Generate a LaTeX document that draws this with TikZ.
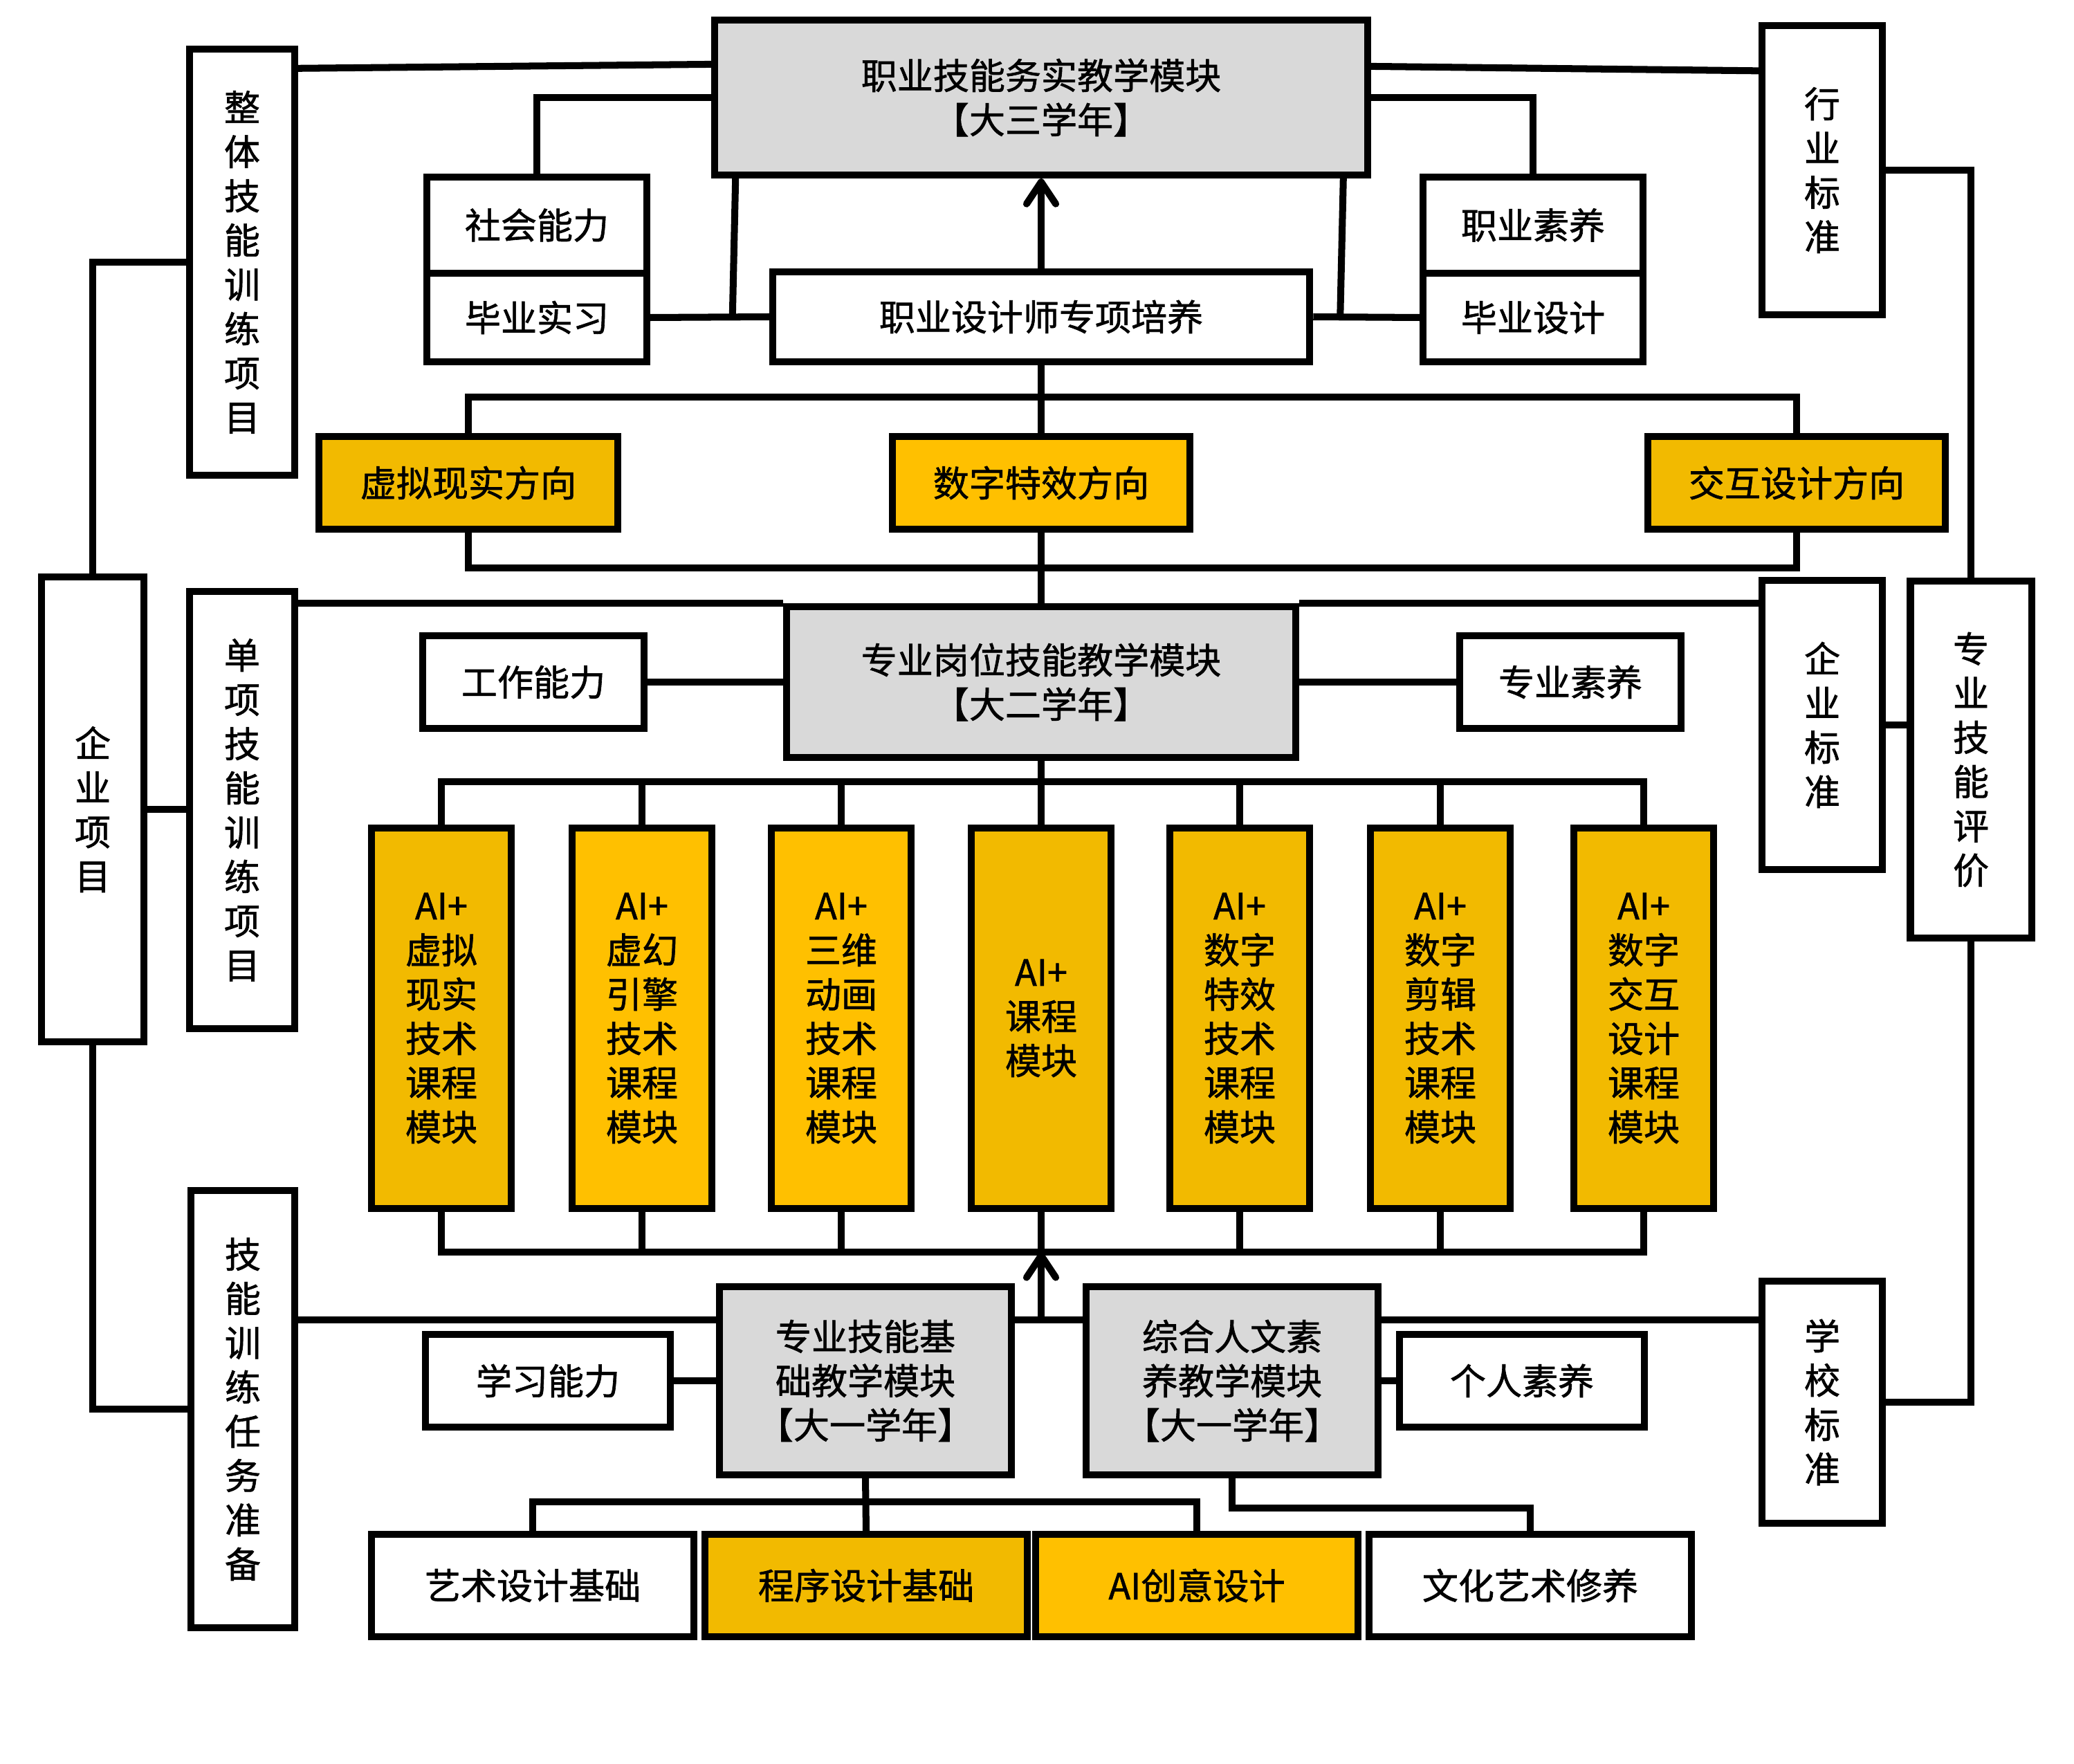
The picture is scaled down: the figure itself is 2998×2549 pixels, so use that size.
\documentclass[tikz,border=0pt]{standalone}
\usepackage{fontspec}
\setmainfont{Noto Sans CJK SC}[FakeBold=1.2]
\usepackage{tikz}
\usetikzlibrary{positioning, calc, arrows.meta}

\definecolor{modgray}{HTML}{D9D9D9}
\definecolor{ydark}{HTML}{F2BA00}
\definecolor{ylight}{HTML}{FFC000}

\tikzset{
  blk/.style={draw, line width=2.85pt, inner sep=0pt, align=center,
    font=\fontsize{14.8pt}{18.2pt}\selectfont},
  wbox/.style={blk, fill=white},
  gbox/.style={blk, fill=modgray},
  ybox/.style={blk, fill=ydark},
  lbox/.style={blk, fill=ylight},
  link/.style={line width=2.85pt},
}

\begin{document}
\begin{tikzpicture}[x=0.01cm, y=-0.01cm, >={Straight Barb[round,length=9pt,width=12pt]}]
    \useasboundingbox (0,0) rectangle (2998,2549);

    % third year
    \node[gbox, minimum width=9.43cm, minimum height=2.24cm] (top) at (1505,141) {职业技能务实教学模块\\【大三学年】};
    \node[wbox, minimum width=3.18cm, minimum height=1.39cm] (shehui) at (776,325.5) {社会能力};
    \node[wbox, minimum width=3.18cm, minimum height=1.28cm] (shixi) at (776,459) {毕业实习};
    \node[wbox, minimum width=7.76cm, minimum height=1.29cm] (zhuanxiang) at (1505,458) {职业设计师专项培养};
    \node[wbox, minimum width=3.17cm, minimum height=1.39cm] (zysy) at (2216,325.5) {职业素养};
    \node[wbox, minimum width=3.17cm, minimum height=1.28cm] (bysj) at (2216,459) {毕业设计};

    % directions
    \node[ybox, minimum width=4.31cm, minimum height=1.33cm] (xuni) at (677,698) {虚拟现实方向};
    \node[lbox, minimum width=4.30cm, minimum height=1.33cm] (texiao) at (1505,698) {数字特效方向};
    \node[ybox, minimum width=4.30cm, minimum height=1.33cm] (jiaohu) at (2597,698) {交互设计方向};

    % second year
    \node[gbox, minimum width=7.35cm, minimum height=2.18cm] (gangwei) at (1505,986) {专业岗位技能教学模块\\【大二学年】};
    \node[wbox, minimum width=3.20cm, minimum height=1.33cm] (gongzuo) at (771,986) {工作能力};
    \node[wbox, minimum width=3.19cm, minimum height=1.33cm] (zhuanyesy) at (2270,986) {专业素养};

    % AI+ modules
    \foreach \x/\n/\t/\s in {638/ai1/{AI+\\虚拟\\现实\\技术\\课程\\模块}/ybox,
                            928/ai2/{AI+\\虚幻\\引擎\\技术\\课程\\模块}/lbox,
                            1216/ai3/{AI+\\三维\\动画\\技术\\课程\\模块}/lbox,
                            1505/ai4/{AI+\\课程\\模块}/ybox,
                            1792/ai5/{AI+\\数字\\特效\\技术\\课程\\模块}/ybox,
                            2082/ai6/{AI+\\数字\\剪辑\\技术\\课程\\模块}/ybox,
                            2376/ai7/{AI+\\数字\\交互\\设计\\课程\\模块}/ybox}
        \node[\s, minimum width=2.02cm, minimum height=5.50cm] (\n) at (\x,1472) {\t};

    % first year
    \node[gbox, minimum width=4.21cm, minimum height=2.72cm] (jichu) at (1251,1996) {专业技能基\\础教学模块\\【大一学年】};
    \node[gbox, minimum width=4.22cm, minimum height=2.72cm] (zonghe) at (1781,1996) {综合人文素\\养教学模块\\【大一学年】};
    \node[wbox, minimum width=3.53cm, minimum height=1.34cm] (xuexi) at (792,1996) {学习能力};
    \node[wbox, minimum width=3.53cm, minimum height=1.34cm] (geren) at (2200,1996) {个人素养};
    \node[wbox, minimum width=4.65cm, minimum height=1.47cm] (yishu) at (770,2292) {艺术设计基础};
    \node[ybox, minimum width=4.65cm, minimum height=1.47cm] (chengxu) at (1252,2292) {程序设计基础};
    \node[lbox, minimum width=4.65cm, minimum height=1.47cm] (aicy) at (1730,2292) {AI创意设计};
    \node[wbox, minimum width=4.65cm, minimum height=1.47cm] (wenhua) at (2212,2292) {文化艺术修养};

    % left column
    \node[wbox, minimum width=1.47cm, minimum height=6.71cm] (qiyexm) at (134,1170) {企\\业\\项\\目};
    \node[wbox, minimum width=1.51cm, minimum height=6.16cm] (zhengti) at (350,379) {整\\体\\技\\能\\训\\练\\项\\目};
    \node[wbox, minimum width=1.51cm, minimum height=6.31cm] (danxiang) at (350,1171) {单\\项\\技\\能\\训\\练\\项\\目};
    \node[wbox, minimum width=1.50cm, minimum height=6.31cm] (jineng) at (351,2037) {技\\能\\训\\练\\任\\务\\准\\备};

    % right column
    \node[wbox, minimum width=1.74cm, minimum height=4.17cm] (hangye) at (2634,246) {行\\业\\标\\准};
    \node[wbox, minimum width=1.74cm, minimum height=4.17cm] (qiyebz) at (2634,1048) {企\\业\\标\\准};
    \node[wbox, minimum width=1.74cm, minimum height=3.49cm] (xuexiao) at (2634,2027) {学\\校\\标\\准};
    \node[wbox, minimum width=1.75cm, minimum height=5.16cm] (pingjia) at (2849,1098) {专\\业\\技\\能\\评\\价};

    \coordinate (topbar) at (0,1130);
    \coordinate (botbar) at (0,1810);
    \coordinate (midbar) at (0,1908);

    % links, top part
    \draw[link] ($(zhengti.north east)+(0,33)$) -- ($(top.north west)+(0,69)$);
    \draw[link] ($(top.north east)+(0,72)$) -- ($(hangye.north west)+(0,70)$);
    \draw[link] (top.west) -| (shehui.north);
    \draw[link] (top.east) -| (zysy.north);
    \draw[link] (shixi.east) -- (zhuanxiang.west);
    \draw[link] (zhuanxiang.east) -- (bysj.west);
    \draw[link] ($(top.south west)+(35,0)$) -- ($(zhuanxiang.west)+(-53,0)$);
    \draw[link] ($(top.south east)+(-40,0)$) -- ($(zhuanxiang.east)+(39,0)$);
    \draw[link,->] (zhuanxiang.north) -- (top.south);

    % directions
    \draw[link] (zhuanxiang.south) -- (texiao.north);
    \draw[link] (xuni.north) -- ++(0,-52) -| (jiaohu.north);
    \draw[link] (xuni.south) -- ++(0,51) -| (jiaohu.south);
    \draw[link] (texiao.south) -- (gangwei.north);

    % second year
    \draw[link] (gangwei.north west) -- (gangwei.north west -| danxiang.east);
    \draw[link] (gangwei.north east) -- (gangwei.north east -| qiyebz.west);
    \draw[link] (gongzuo.east) -- (gangwei.west);
    \draw[link] (gangwei.east) -- (zhuanyesy.west);
    \draw[link] (gangwei.south) -- (ai4.north);
    \draw[link] (ai1.north) |- (topbar -| ai7.north) -- (ai7.north);
    \draw[link] (ai1.south) |- (botbar -| ai7.south) -- (ai7.south);
    \foreach \i in {2,3,5,6} {
        \draw[link] (ai\i.north) -- (ai\i.north |- topbar);
        \draw[link] (ai\i.south) -- (ai\i.south |- botbar);
    }
    \draw[link] (ai4.south) -- (ai4.south |- botbar);

    % first year
    \draw[link,->] (midbar -| ai4.south) -- (botbar -| ai4.south);
    \draw[link] (midbar -| jineng.east) -- (midbar -| jichu.west);
    \draw[link] (midbar -| jichu.east) -- (midbar -| zonghe.west);
    \draw[link] (midbar -| zonghe.east) -- (midbar -| xuexiao.west);
    \draw[link] (xuexi.east) -- (jichu.west);
    \draw[link] (zonghe.east) -- (geren.west);
    \draw[link] (jichu.south) -- (chengxu.north);
    \draw[link] (yishu.north) -- ++(0,-42) -| (aicy.north);
    \draw[link] (zonghe.south) -- ++(0,43) -| (wenhua.north);

    % side columns
    \draw[link] (qiyexm.north) |- (zhengti.west);
    \draw[link] (qiyexm.east) -- (qiyexm.east -| danxiang.west);
    \draw[link] (qiyexm.south) |- (jineng.west);
    \draw[link] (hangye.east) -| (pingjia.north);
    \draw[link] (qiyebz.east) -- (qiyebz.east -| pingjia.west);
    \draw[link] (xuexiao.east) -| (pingjia.south);
\end{tikzpicture}
\end{document}
